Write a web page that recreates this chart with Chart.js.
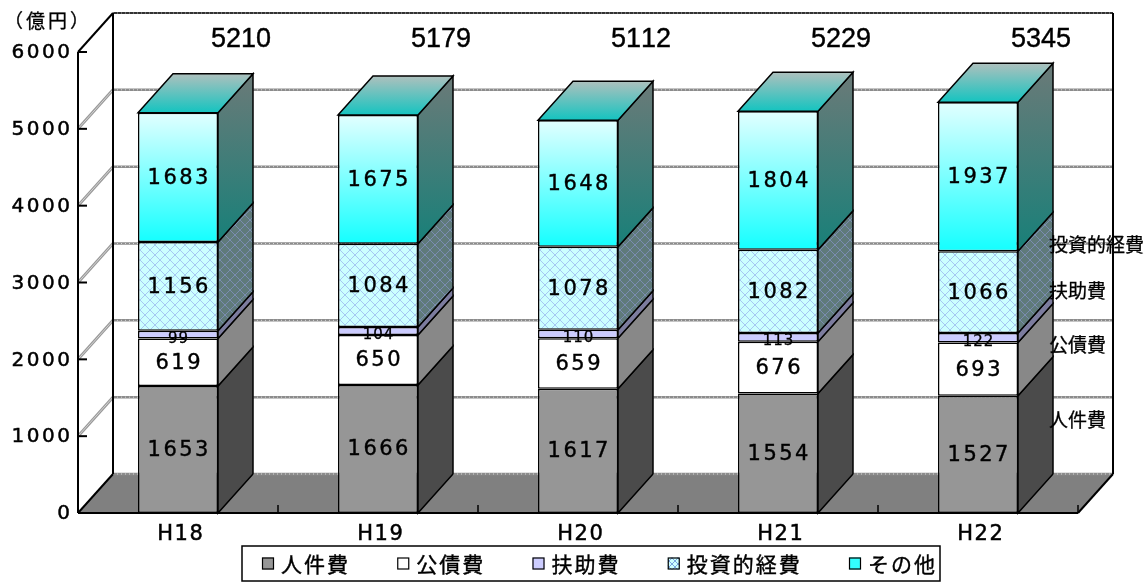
<!DOCTYPE html>
<html>
<head>
<meta charset="utf-8">
<script src="https://cdn.jsdelivr.net/npm/chart.js@4.4.0/dist/chart.umd.min.js"></script>
<style>
  html, body { margin: 0; padding: 0; background: #fff; }
  #wrap { width: 1147px; height: 582px; }
</style>
</head>
<body>
<div id="wrap"><canvas id="c" width="1147" height="582"></canvas></div>
<script>
// 歳出の性質別内訳（億円）
const years = ['H18', 'H19', 'H20', 'H21', 'H22'];
const seriesNames = ['人件費', '公債費', '扶助費', '投資的経費', 'その他'];
const personnel   = [1653, 1666, 1617, 1554, 1527];
const debtService = [619, 650, 659, 676, 693];
const assistance  = [99, 104, 110, 113, 122];
const investment  = [1156, 1084, 1078, 1082, 1066];
const other       = [1683, 1675, 1648, 1804, 1937];
const totals      = [5210, 5179, 5112, 5229, 5345];
const yTicks      = [0, 1000, 2000, 3000, 4000, 5000, 6000];
const unitLabel   = '（億円）';

const seriesValues = [personnel, debtService, assistance, investment, other];

// depth of the 3-D projection (pixels)
const DX = 35, DY = -39;
// heights (axis units on the back wall) where the series names sit at the right
const sideLabelLevels = [700, 1680, 2390, 2980];

const JP = '"Noto Sans CJK JP", "Noto Sans", sans-serif';

function hatch(bg, line, size) {
  const cv = document.createElement('canvas');
  cv.width = cv.height = size;
  const g = cv.getContext('2d');
  g.fillStyle = bg; g.fillRect(0, 0, size, size);
  g.strokeStyle = line; g.lineWidth = 1;
  g.beginPath();
  g.moveTo(0, 0); g.lineTo(size, size);
  g.moveTo(size, 0); g.lineTo(0, size);
  g.stroke();
  return document.getElementById('c').getContext('2d').createPattern(cv, 'repeat');
}
const investFront = hatch('#ccffff', '#a6c8f2', 10);
const investSide = hatch('#5f7a7a', '#7a8cb0', 10);

function stackTop(i, upto) {
  let s = 0;
  for (let k = 0; k <= upto; k++) s += seriesValues[k][i];
  return s;
}

const otherFront = (c) => {
  if (c.type !== 'data') return '#55ffff';
  const ys = c.chart.scales.y;
  const t = ys.getPixelForValue(stackTop(c.dataIndex, 4));
  const b = ys.getPixelForValue(stackTop(c.dataIndex, 3));
  if (!isFinite(t) || !isFinite(b)) return '#55ffff';
  const g = c.chart.ctx.createLinearGradient(0, t, 0, b);
  g.addColorStop(0, '#e2ffff');
  g.addColorStop(1, '#14ffff');
  return g;
};

const frontFills = ['#969696', '#ffffff', '#ccccff', investFront, otherFront];
const sideFills = ['#4b4b4b', '#888888', '#7c7c9e', investSide, null];
const legendFills = ['#969696', '#ffffff', '#ccccff', hatch('#ccffff', '#7aa6e0', 6), '#33ffff'];

// draws text char by char with extra tracking; optional light stroke thickens the strokes
function spacedText(ctx, text, x, y, spacing, align, heavy) {
  const chars = [...text];
  const widths = chars.map(ch => ctx.measureText(ch).width);
  const total = widths.reduce((a, b) => a + b, 0) + spacing * (chars.length - 1);
  let sx = align === 'center' ? x - total / 2 : align === 'right' ? x - total : x;
  ctx.textAlign = 'left';
  chars.forEach((ch, i) => {
    ctx.fillText(ch, sx, y);
    if (heavy) {
      ctx.lineWidth = heavy;
      ctx.strokeStyle = ctx.fillStyle;
      ctx.strokeText(ch, sx, y);
    }
    sx += widths[i] + spacing;
  });
  return total;
}

function poly(ctx, pts, fill, stroke, lw) {
  ctx.beginPath();
  pts.forEach((p, i) => i ? ctx.lineTo(p[0], p[1]) : ctx.moveTo(p[0], p[1]));
  ctx.closePath();
  if (fill) { ctx.fillStyle = fill; ctx.fill(); }
  if (stroke) { ctx.strokeStyle = stroke; ctx.lineWidth = lw || 1.5; ctx.stroke(); }
}

function line(ctx, x1, y1, x2, y2, color, lw, dash) {
  ctx.beginPath();
  ctx.setLineDash(dash || []);
  ctx.moveTo(x1, y1); ctx.lineTo(x2, y2);
  ctx.strokeStyle = color; ctx.lineWidth = lw; ctx.stroke();
  ctx.setLineDash([]);
}

// walls, floor, gridlines and the value axis
const wallsPlugin = {
  id: 'walls',
  beforeDatasetsDraw(chart) {
    const ctx = chart.ctx, ys = chart.scales.y;
    const L = chart.chartArea.left, R = chart.chartArea.right;
    const y0 = ys.getPixelForValue(0), yTop = ys.getPixelForValue(6000);
    ctx.save();
    // back wall and side wall
    poly(ctx, [[L + DX, yTop + DY], [R + DX, yTop + DY], [R + DX, y0 + DY], [L + DX, y0 + DY]], '#ffffff');
    poly(ctx, [[L, yTop], [L + DX, yTop + DY], [L + DX, y0 + DY], [L, y0]], '#ffffff');
    // floor
    poly(ctx, [[L, y0], [L + DX, y0 + DY], [R + DX, y0 + DY], [R, y0]], '#808080');
    // gridlines
    yTicks.forEach(v => {
      const yf = ys.getPixelForValue(v), yb = yf + DY;
      if (v < 6000) {
        line(ctx, L + DX, yb, R + DX, yb, '#8c8c8c', 2.5);
        line(ctx, L + DX, yb, R + DX, yb, '#d8d8d8', 1, [1, 3]);
        if (v > 0) {
          line(ctx, L, yf, L + DX, yb, '#999999', 3);
          line(ctx, L, yf, L + DX, yb, '#d4d4d4', 1);
        }
      } else {
        line(ctx, L + DX, yb, R + DX, yb, '#333333', 2);
        line(ctx, L + DX, yb, R + DX, yb, '#aaaaaa', 1, [1, 3]);
      }
    });
    // wall edges
    line(ctx, L + DX, yTop + DY, L + DX, y0 + DY, '#000', 2);
    line(ctx, R + DX, yTop + DY, R + DX, y0 + DY, '#000', 2);
    line(ctx, L, yTop, L + DX, yTop + DY, '#000', 2);
    // floor edges
    line(ctx, L, y0, R, y0, '#000', 2);
    line(ctx, L, y0, L + DX, y0 + DY, '#000', 2);
    line(ctx, R, y0, R + DX, y0 + DY, '#000', 2);
    // category separators on the floor edge
    const step = (R - L) / years.length;
    for (let k = 1; k <= years.length; k++) {
      line(ctx, L + step * k, y0, L + step * k, y0 - 8, '#000', 1.5);
    }
    // value axis with ticks and labels
    line(ctx, L, yTop, L, y0, '#000', 2);
    ctx.fillStyle = '#000';
    ctx.font = '20px "DejaVu Sans"';
    ctx.textBaseline = 'middle';
    yTicks.forEach(v => {
      const yf = ys.getPixelForValue(v);
      line(ctx, L, yf, L + 9, yf, '#000', 2);
      spacedText(ctx, String(v), L - 8, yf + 1, 2.5, 'right', 0.5);
    });
    ctx.restore();
  },
  afterDatasetsDraw(chart) {
    const ctx = chart.ctx, ys = chart.scales.y;
    ctx.save();
    const last = seriesValues.length - 1;
    // side and top faces of each stacked block
    seriesValues.forEach((vals, si) => {
      const meta = chart.getDatasetMeta(si);
      meta.data.forEach((el) => {
        const x1 = el.x - el.width / 2, x2 = el.x + el.width / 2;
        const t = el.y, b = el.base;
        let fill = sideFills[si];
        if (!fill) {
          fill = ctx.createLinearGradient(0, t + DY, 0, b);
          fill.addColorStop(0, '#6b7a78');
          fill.addColorStop(1, '#188079');
        }
        poly(ctx, [[x2, t], [x2 + DX, t + DY], [x2 + DX, b + DY], [x2, b]], fill, '#000', 1.5);
        if (si === last) {
          const g = ctx.createLinearGradient(0, t + DY, 0, t);
          g.addColorStop(0, '#aec0bd');
          g.addColorStop(1, '#14c4c0');
          poly(ctx, [[x1, t], [x1 + DX, t + DY], [x2 + DX, t + DY], [x2, t]], g, '#000', 1.5);
        }
      });
    });
    // values inside the blocks
    ctx.fillStyle = '#000';
    ctx.textBaseline = 'middle';
    seriesValues.forEach((vals, si) => {
      const meta = chart.getDatasetMeta(si);
      meta.data.forEach((el, i) => {
        const mid = (el.y + el.base) / 2;
        if (si === 2) {
          ctx.save();
          ctx.beginPath();
          ctx.rect(el.x - el.width / 2, el.y + 1, el.width, 40);
          ctx.clip();
          ctx.font = '15px "DejaVu Sans"';
          spacedText(ctx, String(vals[i]), el.x, mid + 4, 1, 'center', 0.3);
          ctx.restore();
        } else {
          ctx.font = '21px "DejaVu Sans"';
          spacedText(ctx, String(vals[i]), el.x, mid + 1, 2.5, 'center', 0.4);
        }
      });
    });
    // totals above the columns
    ctx.font = '27px "Liberation Sans"';
    const topMeta = chart.getDatasetMeta(last);
    topMeta.data.forEach((el, i) => {
      spacedText(ctx, String(totals[i]), el.x + 63, 40, 0, 'center', 0.4);
    });
    // category labels
    ctx.font = '21px "DejaVu Sans"';
    const y0 = ys.getPixelForValue(0);
    years.forEach((yr, i) => {
      spacedText(ctx, yr, chart.scales.x.getPixelForValue(i) + 2, y0 + 22, 1.5, 'center', 0.5);
    });
    // series names beside the last column
    ctx.font = '19px ' + JP;
    sideLabelLevels.forEach((lv, k) => {
      spacedText(ctx, seriesNames[k], 1049, ys.getPixelForValue(lv) + DY, 0, 'left', 0.3);
    });
    // unit
    ctx.font = '19px ' + JP;
    spacedText(ctx, unitLabel, 4, 21, 3, 'left', 0.3);
    // legend
    const box = { l: 242, r: 940, t: 546, b: 581 };
    ctx.font = '21px ' + JP;
    const gapMarker = 7, mk = 12, sp = 2;
    const widths = seriesNames.map(n => {
      const cs = [...n].map(ch => ctx.measureText(ch).width);
      return cs.reduce((a, b) => a + b, 0) + sp * (cs.length - 1);
    });
    const inner = 673;
    const used = widths.reduce((a, w) => a + mk + gapMarker + w, 0);
    const itemGap = (inner - used) / (seriesNames.length - 1);
    ctx.fillStyle = '#fff';
    ctx.fillRect(box.l, box.t, box.r - box.l, box.b - box.t);
    ctx.strokeStyle = '#000'; ctx.lineWidth = 1.5;
    ctx.strokeRect(box.l, box.t, box.r - box.l, box.b - box.t);
    let lx = 262;
    const ly = (box.t + box.b) / 2;
    seriesNames.forEach((n, k) => {
      ctx.fillStyle = legendFills[k];
      ctx.fillRect(lx, ly - mk / 2, mk, mk);
      ctx.strokeStyle = '#000'; ctx.lineWidth = 1.2;
      ctx.strokeRect(lx + 0.5, ly - mk / 2 + 0.5, mk - 1, mk - 1);
      ctx.fillStyle = '#000';
      spacedText(ctx, n, lx + mk + gapMarker, ly + 1, sp, 'left', 0.4);
      lx += mk + gapMarker + widths[k] + itemGap;
    });
    ctx.restore();
  }
};

new Chart(document.getElementById('c'), {
  type: 'bar',
  data: {
    labels: years,
    datasets: seriesValues.map((data, i) => ({
      label: seriesNames[i],
      data,
      backgroundColor: frontFills[i],
      borderColor: '#000000',
      borderWidth: 1.5,
      borderSkipped: false,
      categoryPercentage: 0.5,
      barPercentage: 0.8
    }))
  },
  options: {
    responsive: false,
    animation: false,
    layout: { padding: { left: 78, right: 69, top: 52, bottom: 69 } },
    plugins: { legend: { display: false }, tooltip: { enabled: false } },
    scales: {
      x: { stacked: true, display: false },
      y: { stacked: true, display: false, min: 0, max: 6000, ticks: { stepSize: 1000 } }
    }
  },
  plugins: [wallsPlugin]
});
</script>
</body>
</html>
